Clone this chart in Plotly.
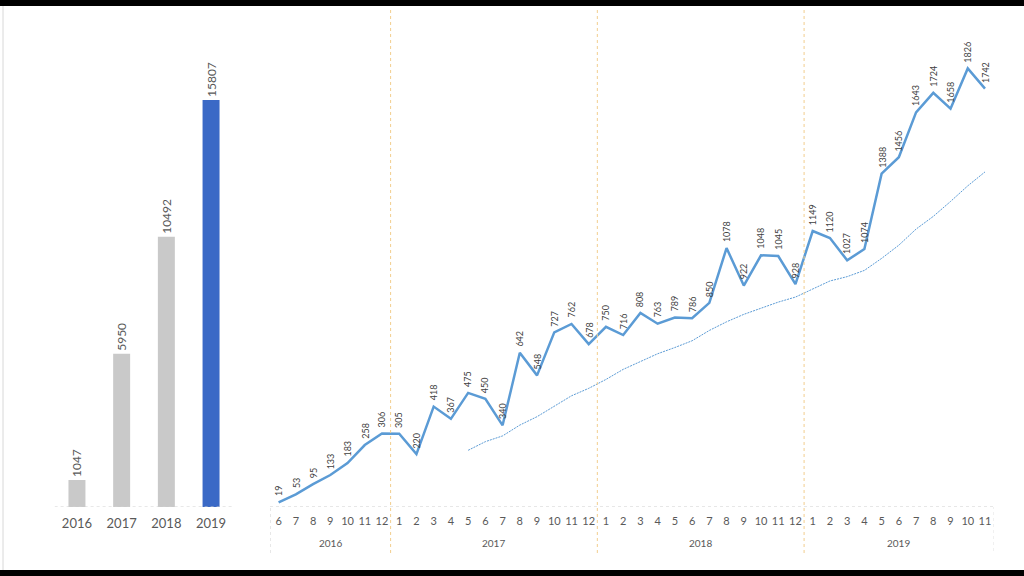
import plotly.graph_objects as go

# ---------------- data ----------------
years = ["2016", "2017", "2018", "2019"]
year_totals = [1047, 5950, 10492, 15807]

month_labels = ["6", "7", "8", "9", "10", "11", "12",
                "1", "2", "3", "4", "5", "6", "7", "8", "9", "10", "11", "12",
                "1", "2", "3", "4", "5", "6", "7", "8", "9", "10", "11", "12",
                "1", "2", "3", "4", "5", "6", "7", "8", "9", "10", "11"]
months_per_year = [7, 12, 12, 11]
monthly_values = [19, 53, 95, 133, 183, 258, 306,
                  305, 220, 418, 367, 475, 450, 340, 642, 548, 727, 762, 678,
                  750, 716, 808, 763, 789, 786, 850, 1078, 922, 1048, 1045, 928,
                  1149, 1120, 1027, 1074, 1388, 1456, 1643, 1724, 1658, 1826, 1742]
# 12-month moving-average trendline (starts at 2017-5)
trend_values = [None] * 11 + [236, 272, 296, 341, 376, 421, 463, 494, 531, 573,
                              605, 638, 664, 692, 735, 771, 802, 829, 853, 874,
                              907, 941, 959, 985, 1035, 1090, 1157, 1210, 1272, 1337,
                              1395]

# ---------------- styling ----------------
GREY_BAR = "#C9C9C9"
BLUE_BAR = "#3A69C6"
LINE_BLUE = "#5B9BD5"
TEXT_GREY = "#595959"
FONT = "Lato"

bar_colors = [GREY_BAR, GREY_BAR, GREY_BAR, BLUE_BAR]
idx = list(range(len(monthly_values)))

fig = go.Figure()

fig.add_trace(go.Bar(
    x=years, y=year_totals, marker=dict(color=bar_colors, line=dict(width=0)),
    width=0.38, text=[str(v) for v in year_totals], textposition="outside",
    textangle=-90, constraintext="none",
    textfont=dict(size=12, color=TEXT_GREY, family=FONT),
    cliponaxis=False, xaxis="x", yaxis="y", showlegend=False, hoverinfo="skip"))

fig.add_trace(go.Scatter(
    x=idx, y=trend_values, mode="lines",
    line=dict(color=LINE_BLUE, width=1, dash="2px,1px"),
    xaxis="x2", yaxis="y2", showlegend=False, hoverinfo="skip"))

fig.add_trace(go.Scatter(
    x=idx, y=monthly_values, mode="lines",
    line=dict(color=LINE_BLUE, width=2.5),
    xaxis="x2", yaxis="y2", showlegend=False, hoverinfo="skip"))

annotations = []
for i, v in zip(idx, monthly_values):
    annotations.append(dict(
        x=i, y=v, xref="x2", yref="y2", text=str(v), textangle=-90,
        showarrow=False, yanchor="bottom", xanchor="center", yshift=4,
        font=dict(size=9, color="#404040", family=FONT)))

# year group labels under the month axis
start = 0
year_bounds = []
for yr, n in zip(years, months_per_year):
    center = start + (n - 1) / 2
    annotations.append(dict(
        x=center, y=1 - 543 / 576, xref="x2", yref="paper", text=yr,
        xanchor="center", yanchor="middle",
        showarrow=False, font=dict(size=10, color=TEXT_GREY, family=FONT)))
    start += n
    year_bounds.append(start - 0.5)

shapes = []
# year separators
for b in year_bounds[:-1]:
    shapes.append(dict(type="line", xref="x2", yref="paper", x0=b, x1=b,
                       y0=1 - 553 / 576, y1=1 - 8 / 576,
                       line=dict(color="#F2CE8E", width=1, dash="dot")))
# category box of the line chart
n_pts = len(monthly_values)
shapes.append(dict(type="line", xref="x2", yref="y2", x0=-0.5, x1=n_pts - 0.5,
                   y0=0, y1=0, line=dict(color="#CFCFCF", width=1, dash="dot")))
shapes.append(dict(type="line", xref="x2", yref="paper", x0=-0.5, x1=-0.5,
                   y0=1 - 553 / 576, y1=1 - 507 / 576,
                   line=dict(color="#CFCFCF", width=1, dash="dot")))
shapes.append(dict(type="line", xref="x2", yref="paper", x0=n_pts - 0.5, x1=n_pts - 0.5,
                   y0=1 - 551 / 576, y1=1 - 507 / 576,
                   line=dict(color="#E3E3E3", width=1, dash="dot")))
# baseline of the bar chart
shapes.append(dict(type="line", xref="x", yref="y", x0=-0.5, x1=3.5, y0=0, y1=0,
                   line=dict(color="#D0D0D0", width=1, dash="dot")))
# thin grey edge on the left
shapes.append(dict(type="line", xref="paper", yref="paper", x0=3 / 1024, x1=3 / 1024,
                   y0=0, y1=1, line=dict(color="#D8D8D8", width=1)))
# black letterbox bands
shapes.append(dict(type="rect", xref="paper", yref="paper", x0=0, x1=1,
                   y0=1 - 6 / 576, y1=1, fillcolor="black", line=dict(width=0)))
shapes.append(dict(type="rect", xref="paper", yref="paper", x0=0, x1=1,
                   y0=0, y1=1 - 570 / 576, fillcolor="black", line=dict(width=0)))

y_dom = [1 - 507 / 576, 1 - 30 / 576]
plot_h = 477

fig.update_layout(
    width=1024, height=576, margin=dict(l=0, r=0, t=0, b=0),
    paper_bgcolor="white", plot_bgcolor="rgba(0,0,0,0)",
    font=dict(family=FONT, color=TEXT_GREY),
    xaxis=dict(domain=[54.6 / 1024, 233.4 / 1024], range=[-0.5, 3.5], type="category",
               showgrid=False, zeroline=False, showline=False, ticks="",
               tickfont=dict(size=13, color=TEXT_GREY, family=FONT),
               ticklabelstandoff=7, anchor="y", fixedrange=True),
    yaxis=dict(domain=y_dom, range=[0, plot_h / 0.02575], visible=False,
               anchor="x", fixedrange=True),
    xaxis2=dict(domain=[270.0 / 1024, 993.6 / 1024], range=[-0.5, n_pts - 0.5],
                tickvals=idx, ticktext=month_labels, tickangle=0,
                showgrid=False, zeroline=False, showline=False, ticks="",
                tickfont=dict(size=11, color=TEXT_GREY, family=FONT),
                ticklabelstandoff=6, anchor="y2", fixedrange=True),
    yaxis2=dict(domain=y_dom, range=[0, plot_h / 0.2402], visible=False,
                anchor="x2", fixedrange=True),
    annotations=annotations, shapes=shapes,
)

fig.write_html("out.html", config={"displayModeBar": False},
               post_script="document.body.style.margin='0';document.body.style.overflow='hidden';")
